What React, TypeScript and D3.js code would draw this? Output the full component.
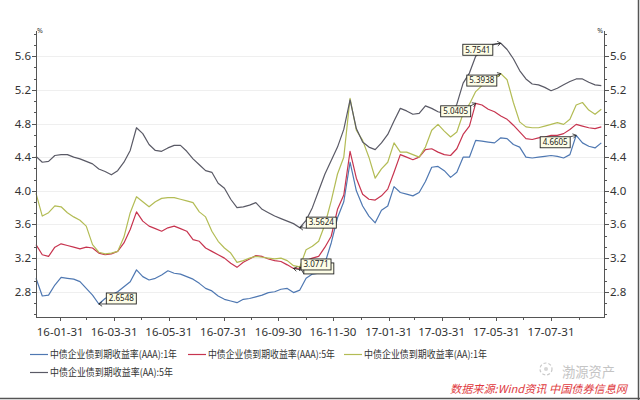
import React from 'react';
import * as d3 from 'd3';

// weekly samples
const dates = [
  '2016-01-04', '2016-01-11', '2016-01-18', '2016-01-25', '2016-02-01', '2016-02-08', '2016-02-15', '2016-02-22',
  '2016-02-29', '2016-03-07', '2016-03-14', '2016-03-21', '2016-03-28', '2016-04-04', '2016-04-11', '2016-04-18',
  '2016-04-25', '2016-05-02', '2016-05-09', '2016-05-16', '2016-05-23', '2016-05-30', '2016-06-06', '2016-06-13',
  '2016-06-20', '2016-06-27', '2016-07-04', '2016-07-11', '2016-07-18', '2016-07-25', '2016-08-01', '2016-08-08',
  '2016-08-15', '2016-08-22', '2016-08-29', '2016-09-05', '2016-09-12', '2016-09-19', '2016-09-26', '2016-10-03',
  '2016-10-10', '2016-10-17', '2016-10-24', '2016-10-31', '2016-11-07', '2016-11-14', '2016-11-21', '2016-11-28',
  '2016-12-05', '2016-12-12', '2016-12-19', '2016-12-26', '2017-01-02', '2017-01-09', '2017-01-16', '2017-01-23',
  '2017-01-30', '2017-02-06', '2017-02-13', '2017-02-20', '2017-02-27', '2017-03-06', '2017-03-13', '2017-03-20',
  '2017-03-27', '2017-04-03', '2017-04-10', '2017-04-17', '2017-04-24', '2017-05-01', '2017-05-08', '2017-05-15',
  '2017-05-22', '2017-05-29', '2017-06-05', '2017-06-12', '2017-06-19', '2017-06-26', '2017-07-03', '2017-07-10',
  '2017-07-17', '2017-07-24', '2017-07-31', '2017-08-07', '2017-08-14', '2017-08-21', '2017-08-28', '2017-09-04',
  '2017-09-11', '2017-09-18', '2017-09-25',
];

const aaa1 = [
  2.96, 2.75, 2.76, 2.88, 2.97, 2.96, 2.95, 2.92, 2.84, 2.76, 2.6548, 2.72, 2.76, 2.80, 2.86, 2.92,
  3.06, 2.98, 2.94, 2.96, 3.00, 3.05, 3.02, 3.01, 2.98, 2.95, 2.90, 2.84, 2.81, 2.75, 2.71, 2.69,
  2.67, 2.71, 2.72, 2.74, 2.76, 2.79, 2.80, 2.83, 2.84, 2.79, 2.82, 2.96, 3.01, 3.02, 3.14, 3.38,
  3.68, 3.87, 4.34, 4.00, 3.82, 3.70, 3.62, 3.77, 3.82, 4.05, 3.98, 3.96, 3.94, 3.98, 4.11, 4.28,
  4.29, 4.24, 4.16, 4.22, 4.40, 4.40, 4.60, 4.59, 4.58, 4.57, 4.63, 4.62, 4.55, 4.52, 4.40, 4.39,
  4.40, 4.41, 4.42, 4.41, 4.39, 4.43, 4.6605, 4.57, 4.53, 4.51, 4.57,
];

const aaa5 = [
  3.36, 3.24, 3.22, 3.33, 3.37, 3.35, 3.33, 3.31, 3.33, 3.32, 3.26, 3.24, 3.25, 3.28, 3.38, 3.54,
  3.75, 3.64, 3.58, 3.55, 3.52, 3.56, 3.58, 3.55, 3.52, 3.42, 3.40, 3.32, 3.28, 3.24, 3.20, 3.14,
  3.09, 3.15, 3.19, 3.23, 3.22, 3.19, 3.17, 3.16, 3.12, 3.0771, 3.08, 3.17, 3.20, 3.22, 3.33, 3.46,
  3.78, 3.95, 4.47, 4.15, 3.96, 3.90, 3.89, 3.94, 4.02, 4.22, 4.43, 4.40, 4.37, 4.40, 4.49, 4.50,
  4.46, 4.43, 4.42, 4.50, 4.67, 4.77, 5.0405, 5.02, 4.97, 4.94, 4.89, 4.85, 4.78, 4.70, 4.62, 4.61,
  4.63, 4.64, 4.66, 4.66, 4.68, 4.73, 4.79, 4.77, 4.75, 4.74, 4.76,
];

const aa1 = [
  3.97, 3.70, 3.74, 3.82, 3.81, 3.74, 3.69, 3.65, 3.58, 3.36, 3.27, 3.25, 3.26, 3.28, 3.45, 3.74,
  3.93, 3.87, 3.81, 3.87, 3.91, 3.92, 3.92, 3.90, 3.88, 3.86, 3.75, 3.69, 3.52, 3.40, 3.32, 3.26,
  3.15, 3.17, 3.20, 3.22, 3.21, 3.20, 3.19, 3.20, 3.17, 3.11, 3.0953, 3.30, 3.34, 3.40, 3.60, 3.88,
  4.20, 4.40, 5.10, 4.72, 4.60, 4.40, 4.15, 4.26, 4.34, 4.57, 4.46, 4.46, 4.43, 4.40, 4.52, 4.72,
  4.79, 4.71, 4.64, 4.70, 4.92, 5.03, 5.18, 5.25, 5.32, 5.33, 5.3938, 5.32, 5.05, 4.82, 4.76, 4.75,
  4.75, 4.77, 4.79, 4.81, 4.79, 4.85, 5.02, 5.05, 4.96, 4.91, 4.97,
];

const aa5 = [
  4.41, 4.34, 4.35, 4.42, 4.43, 4.43, 4.40, 4.38, 4.35, 4.32, 4.26, 4.23, 4.19, 4.24, 4.34, 4.48,
  4.75, 4.68, 4.55, 4.48, 4.47, 4.51, 4.54, 4.54, 4.47, 4.38, 4.31, 4.24, 4.22, 4.09, 4.03, 3.90,
  3.80, 3.81, 3.83, 3.86, 3.78, 3.74, 3.70, 3.67, 3.64, 3.61, 3.5624, 3.65, 3.80, 4.00, 4.20, 4.36,
  4.52, 4.73, 5.08, 4.74, 4.58, 4.52, 4.49, 4.57, 4.67, 4.83, 4.98, 4.95, 4.91, 4.92, 5.01, 4.98,
  4.94, 4.92, 4.90, 5.03, 5.28, 5.40, 5.60, 5.66, 5.72, 5.74, 5.7541, 5.68, 5.57, 5.43, 5.33, 5.27,
  5.26, 5.23, 5.19, 5.22, 5.26, 5.30, 5.33, 5.33, 5.29, 5.26, 5.25,
];

const seriesNames = [
  '中债企业债到期收益率(AAA):1年',
  '中债企业债到期收益率(AAA):5年',
  '中债企业债到期收益率(AA):1年',
  '中债企业债到期收益率(AA):5年',
];
const seriesData = [aaa1, aaa5, aa1, aa5];
const seriesColors = ['#4f78b2', '#c7344f', '#b3bc55', '#5a5a66'];

const yTicks = [2.8, 3.2, 3.6, 4.0, 4.4, 4.8, 5.2, 5.6];
const xTickDates = [
  '2016-01-31', '2016-03-31', '2016-05-31', '2016-07-31', '2016-09-30',
  '2016-11-30', '2017-01-31', '2017-03-31', '2017-05-31', '2017-07-31',
];
const xMinorDates = [
  '2016-02-29', '2016-04-30', '2016-06-30', '2016-08-31', '2016-10-31',
  '2016-12-31', '2017-02-28', '2017-04-30', '2017-06-30', '2017-08-31',
];

// marked extremes: [series, sample index]; hidden = box sits under another one
const marks = [
  { series: 0, index: 10, hidden: false },
  { series: 3, index: 42, hidden: false },
  { series: 2, index: 42, hidden: true },
  { series: 1, index: 41, hidden: false },
  { series: 1, index: 70, hidden: false },
  { series: 2, index: 74, hidden: false },
  { series: 3, index: 74, hidden: false },
  { series: 0, index: 86, hidden: false },
];
// box offset from the marked point
const markOffsets = [
  { dx: 7.5, dy: -11 },
  { dx: 6.5, dy: -10.5 },
  { dx: 4, dy: -4 },
  { dx: 7.5, dy: -9.5 },
  { dx: -35, dy: 2.5 },
  { dx: -34, dy: 1.5 },
  { dx: -38, dy: 1 },
  { dx: -36, dy: 1.5 },
];

const parse = d3.timeParse('%Y-%m-%d');
const fmt = d3.timeFormat('%y-%m-%d');

const W = 640;
const H = 400;
const plot = { left: 36, right: 604, top: 31, bottom: 317 };
const FONT = "'Noto Sans', 'Noto Sans CJK SC', sans-serif";
const CJK = "'Noto Sans CJK SC', 'Noto Sans', sans-serif";

export default function App() {
  const xs = dates.map(d => parse(d) as Date);
  const x = d3.scaleTime()
    .domain([parse('2016-01-04') as Date, parse('2017-09-28') as Date])
    .range([plot.left, plot.right]);
  const y = d3.scaleLinear().domain([2.5, 5.9]).range([plot.bottom, plot.top]);

  const line = d3.line<number>()
    .x((_, i) => x(xs[i]))
    .y(v => y(v));

  const step = 0.4 / 3;
  const yMinor: number[] = [];
  [...yTicks, 6.0].forEach(m => {
    [m - step, m - 2 * step].forEach(v => {
      if (v > 2.5 && v < 5.95) yMinor.push(v);
    });
  });

  const boxW = 30;
  const boxH = 11;

  const legendItems = [
    { x: 30, y: 354, w: 127 },
    { x: 188, y: 354, w: 127 },
    { x: 344, y: 354, w: 123 },
    { x: 30, y: 372, w: 123 },
  ];

  return (
    <svg width={W} height={H} style={{ position: 'absolute', left: 0, top: 0, background: '#fff' }}>
      <rect x={0} y={0} width={W} height={H} fill="#fff" />

      {/* gridlines */}
      {yTicks.map(t => (
        <line key={`g${t}`} x1={plot.left} x2={plot.right} y1={Math.round(y(t)) + 0.5} y2={Math.round(y(t)) + 0.5}
          stroke="#efefef" strokeWidth={1} />
      ))}

      {/* series */}
      {seriesData.map((s, i) => (
        <path key={seriesNames[i]} d={line(s) || ''} fill="none" stroke={seriesColors[i]}
          strokeWidth={1.2} strokeLinejoin="round" />
      ))}

      {/* axes */}
      <g stroke="#555" strokeWidth={1} fill="none">
        <line x1={plot.left + 0.5} x2={plot.left + 0.5} y1={plot.top} y2={plot.bottom} />
        <line x1={plot.right + 0.5} x2={plot.right + 0.5} y1={plot.top} y2={plot.bottom} />
        <line x1={plot.left} x2={plot.right + 1} y1={plot.bottom + 0.5} y2={plot.bottom + 0.5} />
        {yTicks.map(t => (
          <g key={`yt${t}`}>
            <line x1={plot.left - 4} x2={plot.left} y1={Math.round(y(t)) + 0.5} y2={Math.round(y(t)) + 0.5} />
            <line x1={plot.right + 1} x2={plot.right + 5} y1={Math.round(y(t)) + 0.5} y2={Math.round(y(t)) + 0.5} />
          </g>
        ))}
        {yMinor.map(t => (
          <g key={`ym${t}`}>
            <line x1={plot.left - 2} x2={plot.left} y1={Math.round(y(t)) + 0.5} y2={Math.round(y(t)) + 0.5} />
            <line x1={plot.right + 1} x2={plot.right + 3} y1={Math.round(y(t)) + 0.5} y2={Math.round(y(t)) + 0.5} />
          </g>
        ))}
        {xTickDates.map(d => {
          const px = Math.round(x(parse(d) as Date)) + 0.5;
          return <line key={`xt${d}`} x1={px} x2={px} y1={plot.bottom} y2={plot.bottom + 4} />;
        })}
        {xMinorDates.map(d => {
          const px = Math.round(x(parse(d) as Date)) + 0.5;
          return <line key={`xm${d}`} x1={px} x2={px} y1={plot.bottom} y2={plot.bottom + 3} />;
        })}
      </g>

      {/* axis labels */}
      <g fontFamily={FONT} fontSize={11.5} fill="#333">
        {yTicks.map(t => (
          <g key={`yl${t}`}>
            <text x={plot.left - 5} y={y(t)} dy="0.35em" textAnchor="end">{t.toFixed(1)}</text>
            <text x={plot.right + 6} y={y(t)} dy="0.35em" textAnchor="start">{t.toFixed(1)}</text>
          </g>
        ))}
        {xTickDates.map(d => (
          <text key={`xl${d}`} x={x(parse(d) as Date)} y={336} textAnchor="middle">{fmt(parse(d) as Date)}</text>
        ))}
        <text x={plot.left + 1} y={33} fontSize={7}>%</text>
        <text x={plot.right - 1} y={33} fontSize={7} textAnchor="end">%</text>
      </g>

      {/* marked values */}
      {marks.map((m, i) => {
        const v = seriesData[m.series][m.index];
        const px = x(xs[m.index]);
        const py = y(v);
        const o = markOffsets[i];
        const bx = px + o.dx;
        const by = py + o.dy;
        const toRight = o.dx < 0;
        const sx = toRight ? bx + boxW : bx;
        const sy = toRight ? by : by + boxH;
        const ang = Math.atan2(py - sy, px - sx);
        const hl = 4;
        const h1x = px - hl * Math.cos(ang - 0.6);
        const h1y = py - hl * Math.sin(ang - 0.6);
        const h2x = px - hl * Math.cos(ang + 0.6);
        const h2y = py - hl * Math.sin(ang + 0.6);
        return (
          <g key={`mk${i}`}>
            <line x1={sx} y1={sy} x2={px} y2={py} stroke="#222" strokeWidth={0.8} />
            <polyline points={`${h1x},${h1y} ${px},${py} ${h2x},${h2y}`} fill="none" stroke="#222" strokeWidth={0.8} />
            <rect x={bx} y={by} width={boxW} height={boxH} fill="#fdfde6" stroke="#222" strokeWidth={0.9} />
            {!m.hidden && (
              <text x={bx + boxW / 2} y={by + boxH / 2} dy="0.35em" textAnchor="middle" fontFamily={FONT}
                fontSize={8} fill="#222">{d3.format('.4f')(v)}</text>
            )}
          </g>
        );
      })}

      {/* legend */}
      {seriesNames.map((n, i) => {
        const it = legendItems[i];
        return (
          <g key={`lg${i}`}>
            <line x1={it.x} x2={it.x + 18} y1={it.y + 0.5} y2={it.y + 0.5} stroke={seriesColors[i]} strokeWidth={1.2} />
            <text x={it.x + 20} y={it.y} dy="0.35em" fontFamily={CJK} fontSize={10} fill="#333"
              textLength={it.w} lengthAdjust="spacingAndGlyphs">{n}</text>
          </g>
        );
      })}

      {/* watermark */}
      <g stroke="#c9c9c9" fill="none" strokeWidth={1.2}>
        <circle cx={546} cy={369} r={6} strokeDasharray="3 2" />
        <circle cx={546} cy={369} r={2} fill="#d6d6d6" stroke="none" />
      </g>
      <text x={562} y={377} fontFamily={CJK} fontSize={14} fill="#c4c4c4" textLength={53}
        lengthAdjust="spacingAndGlyphs">渤源资产</text>
      <text x={450} y={393} fontFamily={CJK} fontSize={11} fontStyle="italic" fill="#e03a3e" textLength={177}
        lengthAdjust="spacingAndGlyphs">数据来源:Wind资讯 中国债券信息网</text>

      {/* frame edge */}
      <line x1={638.5} x2={638.5} y1={0} y2={H} stroke="#555" strokeWidth={1.5} />
      <line x1={0} x2={W} y1={398.5} y2={398.5} stroke="#555" strokeWidth={1.5} />
    </svg>
  );
}
